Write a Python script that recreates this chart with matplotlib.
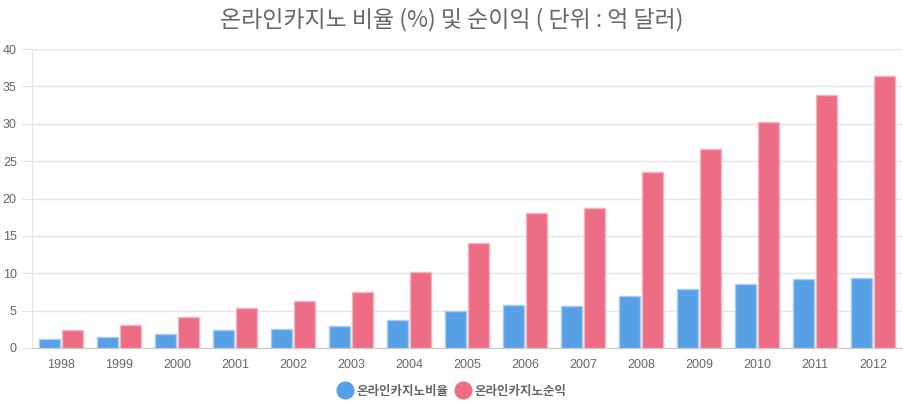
import numpy as np
import matplotlib
matplotlib.use("Agg")
import matplotlib.pyplot as plt
from matplotlib.lines import Line2D

plt.rcParams['font.family'] = ['Noto Sans CJK KR', 'DejaVu Sans']

years = ["1998", "1999", "2000", "2001", "2002", "2003", "2004", "2005",
         "2006", "2007", "2008", "2009", "2010", "2011", "2012"]
ratio = [1.25, 1.5, 1.87, 2.4, 2.58, 2.98, 3.78, 4.9,
         5.8, 5.57, 7.0, 7.9, 8.6, 9.2, 9.4]
profit = [2.4, 3.1, 4.1, 5.3, 6.3, 7.5, 10.2, 14.0,
          18.0, 18.7, 23.55, 26.6, 30.3, 33.9, 36.35]
series_names = ["온라인카지노비율", "온라인카지노순익"]
title = "온라인카지노 비율 (%) 및 순이익 ( 단위 : 억 달러)"

blue = "#57a0e5"
red = "#ed6d85"
blue_edge = "#a8cdf2"
red_edge = "#f6b3c0"
grey = "#666666"

fig = plt.figure(figsize=(9.04, 4.05), dpi=100)
ax = fig.add_axes([32 / 904, 1 - 348 / 405, 870 / 904, 299 / 405])

x = np.arange(len(years))
w = 0.36
ax.bar(x - w / 2 - 0.017, ratio, width=w, color=blue, edgecolor=blue_edge,
       linewidth=1, zorder=3)
ax.bar(x + w / 2 + 0.017, profit, width=w, color=red, edgecolor=red_edge,
       linewidth=1, zorder=3)

ax.set_xlim(-0.5, len(years) - 0.5)
ax.set_ylim(0, 40)
ax.set_yticks(range(0, 41, 5))
ax.set_xticks(x)
ax.set_xticklabels(years)
ax.grid(axis="y", color="#e4e4e4", linewidth=1, zorder=0)
ax.tick_params(axis="y", length=8, color="#e4e4e4", labelsize=9, labelcolor=grey, pad=3)
ax.tick_params(axis="x", length=0, labelsize=9, labelcolor=grey, pad=8)
for lab in ax.get_xticklabels() + ax.get_yticklabels():
    lab.set_family(['Liberation Sans', 'DejaVu Sans'])

for side in ["top", "right"]:
    ax.spines[side].set_visible(False)
ax.spines["left"].set_color("#e4e4e4")
ax.spines["bottom"].set_color("#c8c8c8")

fig.text(0.5, 1 - 20 / 405, title, ha="center", va="center", fontsize=16.5, color=grey)

handles = [Line2D([], [], marker="o", linestyle="", markersize=12,
                  markerfacecolor=c, markeredgecolor=c) for c in (blue, red)]
fig.legend(handles, series_names, loc="center", bbox_to_anchor=(0.5, 1 - 391 / 405),
           ncol=2, frameon=False, prop={"size": 9, "weight": "bold"}, labelcolor=grey,
           handletextpad=0.3, columnspacing=0.6, handlelength=1.2)

fig.savefig("out.png", dpi=100)
